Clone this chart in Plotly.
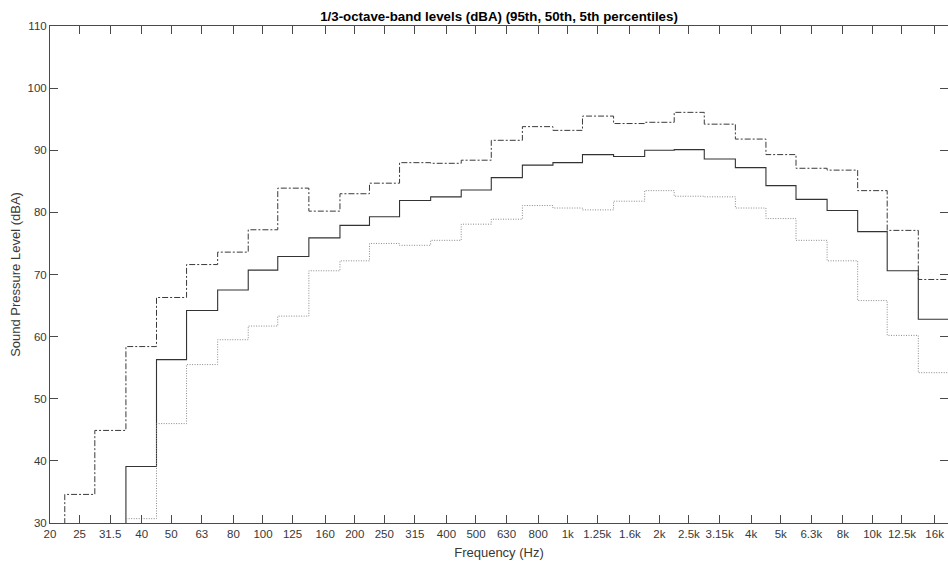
import numpy as np
import plotly.graph_objects as go

# ---- data ----
band_labels = ["20", "25", "31.5", "40", "50", "63", "80", "100", "125", "160",
               "200", "250", "315", "400", "500", "630", "800", "1k", "1.25k", "1.6k",
               "2k", "2.5k", "3.15k", "4k", "5k", "6.3k", "8k", "10k", "12.5k", "16k"]
band_centers = [20, 25, 31.5, 40, 50, 63, 80, 100, 125, 160,
                200, 250, 315, 400, 500, 630, 800, 1000, 1250, 1600,
                2000, 2500, 3150, 4000, 5000, 6300, 8000, 10000, 12500, 16000]

p95 = [25.0, 34.6, 44.9, 58.4, 66.3, 71.6, 73.6, 77.2, 83.9, 80.2,
       83.0, 84.7, 88.0, 87.9, 88.4, 91.6, 93.8, 93.2, 95.5, 94.3,
       94.5, 96.1, 94.2, 91.8, 89.3, 87.1, 86.8, 83.5, 77.1, 69.2]
p50 = [15.0, 20.0, 26.0, 39.1, 56.3, 64.2, 67.5, 70.7, 72.9, 75.9,
       77.9, 79.3, 81.9, 82.5, 83.6, 85.6, 87.6, 88.0, 89.3, 89.0,
       90.0, 90.1, 88.6, 87.2, 84.3, 82.1, 80.3, 76.9, 70.6, 62.8]
p5 = [8.0, 13.0, 20.0, 30.7, 46.0, 55.5, 59.5, 61.7, 63.3, 70.6,
      72.2, 75.0, 74.7, 75.5, 78.1, 78.9, 81.1, 80.7, 80.4, 81.8,
      83.5, 82.6, 82.5, 80.7, 79.0, 75.5, 72.2, 65.8, 60.2, 54.2]

y_ticks = [30, 40, 50, 60, 70, 80, 90, 100, 110]

# ---- band edges (1/3 octave) ----
c = np.array(band_centers, dtype=float)
inner = np.sqrt(c[:-1] * c[1:])
edges = np.concatenate([[c[0] / 2 ** (1 / 6)], inner, [c[-1] * 2 ** (1 / 6)]])


def step_xy(vals):
    return list(edges), list(vals) + [vals[-1]]


FONT = "Liberation Sans, Arial, sans-serif"
TXT = "#383838"

fig = go.Figure()
styles = [
    ("95th", p95, dict(color="#3a3a3a", width=1, dash="6px,2px,2px,2px")),
    ("50th", p50, dict(color="#333333", width=1.1)),
    ("5th", p5, dict(color="#8a8a8a", width=1, dash="1px,1.5px")),
]
for name, vals, line in styles:
    xs, ys = step_xy(vals)
    fig.add_trace(go.Scatter(x=xs, y=ys, mode="lines", name=name,
                             line=dict(shape="hv", **line)))

fig.update_layout(
    width=948, height=569,
    margin=dict(l=50, r=0, t=26, b=46),
    paper_bgcolor="white", plot_bgcolor="white",
    showlegend=False,
    font=dict(family=FONT, size=11, color=TXT),
    title=dict(text="<b>1/3-octave-band levels (dBA) (95th, 50th, 5th percentiles)</b>",
               x=(50 + 948) / 2 / 948, xanchor="center", y=1 - 16.5 / 569, yanchor="middle",
               font=dict(family=FONT, size=13.3, color="#000000")),
)
fig.update_xaxes(
    type="log", range=[np.log10(20), np.log10(17700)],
    tickmode="array", tickvals=band_centers, ticktext=band_labels,
    ticks="inside", ticklen=8, tickcolor="#4a4a4a", tickwidth=1,
    showline=True, linecolor="#4a4a4a", linewidth=1, mirror="ticks",
    showgrid=False, zeroline=False,
    tickfont=dict(family=FONT, size=11.5, color=TXT),
    title=dict(text="Frequency (Hz)", font=dict(family=FONT, size=13, color=TXT), standoff=9),
)
fig.update_yaxes(
    range=[30, 110], tickmode="array", tickvals=y_ticks,
    ticks="inside", ticklen=8, tickcolor="#4a4a4a", tickwidth=1,
    showline=True, linecolor="#4a4a4a", linewidth=1, mirror="ticks",
    showgrid=False, zeroline=False,
    tickfont=dict(family=FONT, size=11.5, color=TXT),
    title=dict(text="Sound Pressure Level (dBA)", font=dict(family=FONT, size=13, color=TXT), standoff=3),
)

fig.write_html("out.html")
